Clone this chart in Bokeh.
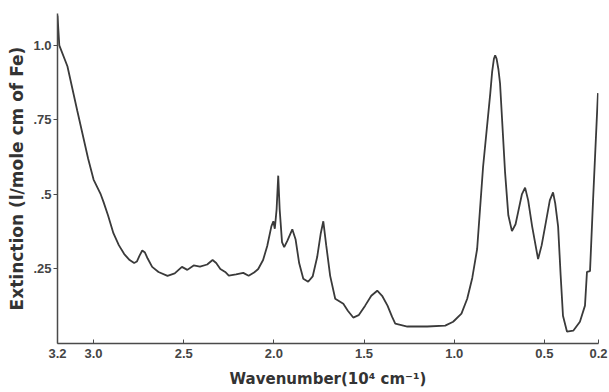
from bokeh.plotting import figure
from bokeh.models import Range1d, FixedTicker
from bokeh.embed import file_html
from bokeh.resources import INLINE

# Data (wavenumber in 10^4 cm^-1, extinction)
wavenumber = [3.20, 3.19, 3.145, 3.09, 3.03, 3.00, 2.96, 2.945, 2.92, 2.89, 2.86, 2.83, 2.80, 2.775,
              2.76, 2.745, 2.73, 2.715, 2.70, 2.675, 2.64, 2.59, 2.55, 2.51, 2.48, 2.445, 2.41, 2.37,
              2.34, 2.32, 2.297, 2.27, 2.25, 2.21, 2.17, 2.14, 2.11, 2.087, 2.06, 2.037, 2.014, 2.003,
              1.995, 1.985, 1.976, 1.968, 1.955, 1.943, 1.925, 1.898, 1.88, 1.86, 1.837, 1.81, 1.785,
              1.76, 1.74, 1.726, 1.71, 1.688, 1.66, 1.615, 1.59, 1.56, 1.53, 1.494, 1.46, 1.427, 1.40,
              1.37, 1.345, 1.327, 1.26, 1.15, 1.05, 1.006, 0.96, 0.928, 0.90, 0.873, 0.84, 0.80, 0.79,
              0.78, 0.773, 0.765, 0.755, 0.746, 0.718, 0.70, 0.68, 0.66, 0.646, 0.625, 0.607, 0.59, 0.568,
              0.535, 0.515, 0.496, 0.47, 0.452, 0.44, 0.424, 0.41, 0.397, 0.375, 0.34, 0.303, 0.275, 0.264,
              0.247, 0.23, 0.203]
extinction = [1.10, 1.00, 0.93, 0.78, 0.62, 0.55, 0.50, 0.475, 0.43, 0.37, 0.33, 0.30, 0.28, 0.27,
              0.275, 0.295, 0.312, 0.305, 0.285, 0.257, 0.24, 0.227, 0.235, 0.257, 0.247, 0.262, 0.258, 0.265,
              0.28, 0.27, 0.25, 0.24, 0.228, 0.232, 0.237, 0.227, 0.238, 0.25, 0.28, 0.327, 0.393, 0.41,
              0.385, 0.45, 0.563, 0.45, 0.34, 0.323, 0.345, 0.383, 0.35, 0.27, 0.217, 0.207, 0.225,
              0.29, 0.37, 0.41, 0.33, 0.227, 0.15, 0.133, 0.11, 0.087, 0.095, 0.127, 0.16, 0.177, 0.16,
              0.127, 0.09, 0.067, 0.057, 0.057, 0.06, 0.073, 0.10, 0.15, 0.22, 0.317, 0.593, 0.84, 0.91,
              0.955, 0.967, 0.955, 0.92, 0.873, 0.573, 0.43, 0.377, 0.40, 0.44, 0.50, 0.523, 0.48, 0.393,
              0.283, 0.33, 0.393, 0.48, 0.507, 0.47, 0.393, 0.23, 0.093, 0.04, 0.043, 0.073, 0.127, 0.24,
              0.243, 0.483, 0.84]

x_ticks = [3.2, 3.0, 2.5, 2.0, 1.5, 1.0, 0.5, 0.2]
x_tick_labels = ["3.2", "3.0", "2.5", "2.0", "1.5", "1.0", "0.5", "0.2"]
y_ticks = [0.25, 0.5, 0.75, 1.0]
y_tick_labels = [".25", ".5", ".75", "1.0"]

p = figure(width=609, height=392, output_backend="svg", toolbar_location=None,
           x_range=Range1d(3.2, 0.2), y_range=Range1d(0, 1.107),
           min_border_left=57, min_border_right=11, min_border_top=13, min_border_bottom=49)

p.line(wavenumber, extinction, line_color="#3a3a3a", line_width=1.8)

p.grid.visible = False
p.outline_line_color = None
p.background_fill_color = "white"
p.border_fill_color = "white"

for ax in (p.xaxis[0], p.yaxis[0]):
    ax.axis_line_color = "#4a4a4a"
    ax.axis_line_width = 1.5
    ax.major_tick_line_color = "#4a4a4a"
    ax.minor_tick_line_color = None
    ax.major_label_text_font = "Liberation Sans"
    ax.major_label_text_font_style = "bold"
    ax.major_label_text_font_size = "13px"
    ax.major_label_text_color = "#444444"
    ax.axis_label_text_font = "DejaVu Sans"
    ax.axis_label_text_font_style = "bold"
    ax.axis_label_text_color = "#333333"

p.xaxis.ticker = FixedTicker(ticks=x_ticks)
p.xaxis.major_label_overrides = dict(zip(x_ticks, x_tick_labels))
p.xaxis.major_tick_in = 4
p.xaxis.major_tick_out = 0
p.xaxis.major_label_standoff = 5
p.xaxis.axis_label = "Wavenumber(10⁴ cm⁻¹)"
p.xaxis.axis_label_text_font_size = "15px"
p.xaxis.axis_label_standoff = 9

p.yaxis.ticker = FixedTicker(ticks=y_ticks)
p.yaxis.major_label_overrides = dict(zip(y_ticks, y_tick_labels))
p.yaxis.major_tick_in = 0
p.yaxis.major_tick_out = 4
p.yaxis.major_label_standoff = 2
p.yaxis.axis_label = "Extinction (l/mole cm of Fe)"
p.yaxis.axis_label_text_font_size = "17px"
p.yaxis.axis_label_standoff = 3

open("out.html", "w").write(file_html(p, INLINE))
